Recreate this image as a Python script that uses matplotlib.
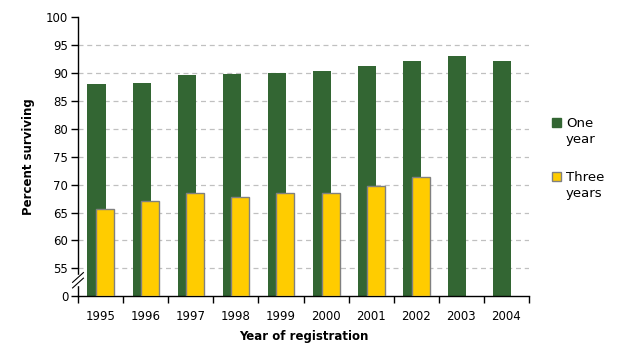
import numpy as np
import matplotlib
matplotlib.use("Agg")
import matplotlib.pyplot as plt
from matplotlib.patches import Patch, Rectangle
from matplotlib.legend_handler import HandlerPatch

years = ["1995", "1996", "1997", "1998", "1999", "2000", "2001", "2002", "2003", "2004"]
one_year = [88.1, 88.2, 89.7, 89.9, 90.0, 90.4, 91.3, 92.2, 93.1, 92.2]
three_years = [65.6, 67.1, 68.5, 67.8, 68.5, 68.5, 69.8, 71.4, None, None]
yticks = [0, 55, 60, 65, 70, 75, 80, 85, 90, 95, 100]

plt.rcParams['font.family'] = ['DejaVu Sans']

def fwd(v):
    v = np.asarray(v, dtype=float)
    return np.where(v < 55, v * 5.0 / 55.0, v - 50.0)

def inv(u):
    u = np.asarray(u, dtype=float)
    return np.where(u < 5, u * 55.0 / 5.0, u + 50.0)

fig = plt.figure(figsize=(6.24, 3.56), dpi=100)
ax = fig.add_axes([0.125, 0.1677, 0.7228, 0.7837])
ax.set_yscale('function', functions=(fwd, inv))
ax.set_ylim(0, 100)

x = np.arange(len(years))
w = 0.4
green = '#336633'
yellow = '#FFCC00'
ax.bar(x - 0.09, one_year, width=w, color=green, zorder=2)
tx = [xi for xi, v in zip(x, three_years) if v is not None]
tv = [v for v in three_years if v is not None]
ax.bar(np.array(tx) + 0.10, tv, width=w, color=yellow, edgecolor='#808080', linewidth=1.0, zorder=3)

ax.set_xlim(-0.5, len(years) - 0.5)
ax.set_xticks(x)
ax.set_xticklabels(years, fontsize=8.5)
ax.set_xticks(np.arange(-0.5, len(years)), minor=True)
ax.tick_params(axis='x', which='major', length=0, pad=10)
ax.tick_params(axis='x', which='minor', length=5, width=1, color='black')
ax.set_yticks(yticks)
ax.set_yticklabels([str(t) for t in yticks], fontsize=8.5)
ax.yaxis.set_minor_locator(matplotlib.ticker.NullLocator())
ax.tick_params(axis='y', length=5, width=1, pad=2)

for t in yticks[1:-1]:
    ax.axhline(t, color='#c0c0c0', linestyle=(0, (4, 3)), linewidth=0.9, zorder=1)

for s in ['top', 'right']:
    ax.spines[s].set_visible(False)
for s in ['left', 'bottom']:
    ax.spines[s].set_color('black')
    ax.spines[s].set_linewidth(1.0)

# axis break mark
ax.add_patch(plt.Rectangle((-0.004, 0.04), 0.008, 0.035, transform=ax.transAxes,
                           color='white', clip_on=False, zorder=4))
for dy in (0.0, 0.02):
    ax.plot([-0.012, 0.012], [0.03 + dy, 0.065 + dy], transform=ax.transAxes,
            color='black', linewidth=0.8, clip_on=False, zorder=5)

ax.set_ylabel('Percent surviving', fontsize=8.5, fontweight='bold', labelpad=8)
ax.set_xlabel('Year of registration', fontsize=8.5, fontweight='bold', labelpad=5)


def top_patch(legend, orig_handle, xdescent, ydescent, width, height, fontsize):
    return Rectangle((-xdescent, -ydescent + 0.72 * fontsize), width, height)


handles = [Patch(facecolor=green, edgecolor=green),
           Patch(facecolor=yellow, edgecolor='#808080')]
leg = ax.legend(handles, ['One\nyear', 'Three\nyears'], loc='upper left',
                bbox_to_anchor=(1.025, 0.685), frameon=False, fontsize=9.5,
                handlelength=0.7, handleheight=0.7, handletextpad=0.35,
                labelspacing=1.9,
                handler_map={Patch: HandlerPatch(patch_func=top_patch)})
for t in leg.get_texts():
    t.set_linespacing(1.3)

fig.savefig('out.png', dpi=100)
